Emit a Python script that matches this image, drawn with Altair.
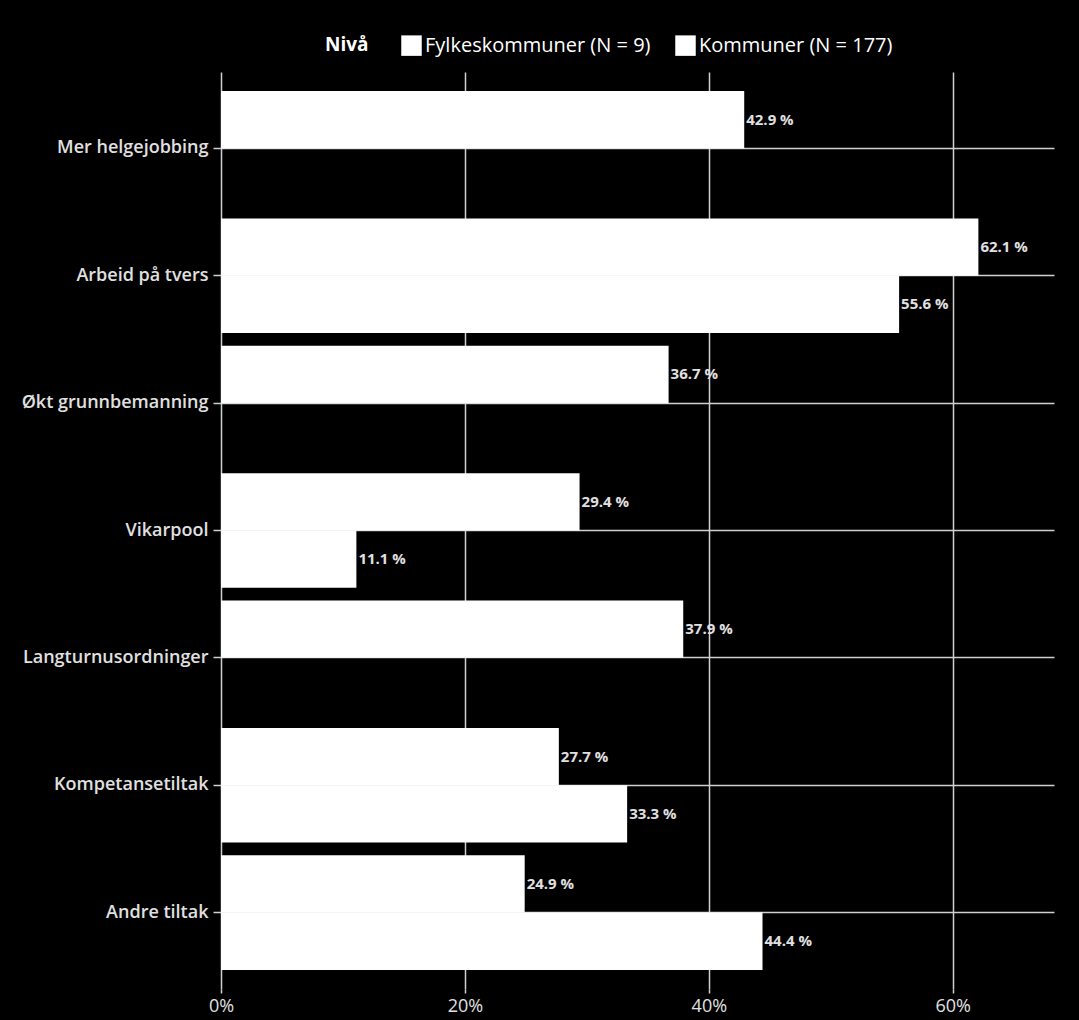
import altair as alt
import pandas as pd

categories = ["Mer helgejobbing", "Arbeid på tvers", "Økt grunnbemanning", "Vikarpool",
              "Langturnusordninger", "Kompetansetiltak", "Andre tiltak"]
kommuner = [42.9, 62.1, 36.7, 29.4, 37.9, 27.7, 24.9]
fylkeskommuner = [None, 55.6, None, 11.1, None, 33.3, 44.4]
series = ["Fylkeskommuner (N = 9)", "Kommuner (N = 177)"]
x_ticks = [0, 0.2, 0.4, 0.6]

rows = []
for c, k, f in zip(categories, kommuner, fylkeskommuner):
    rows.append({"cat": c, "niva": series[1], "val": k / 100, "lab": f"{k:.1f} %"})
    if f is not None:
        rows.append({"cat": c, "niva": series[0], "val": f / 100, "lab": f"{f:.1f} %"})
df = pd.DataFrame(rows)

FONT = "Open Sans"
GRID = "#d0d0d0"

y_enc = alt.Y("cat:N", sort=categories, title=None,
              scale=alt.Scale(paddingInner=0.1, paddingOuter=0.15),
              axis=alt.Axis(bandPosition=0.5, grid=True, gridColor=GRID, gridWidth=1.5,
                            domain=False, tickColor=GRID, tickSize=8, tickWidth=1.5,
                            labelColor="#e0e0e0", labelFontSize=18, labelFontWeight=600,
                            labelFont=FONT, labelPadding=5, labelLimit=0))
yoff = alt.YOffset("niva:N", sort=[series[1], series[0]],
                   scale=alt.Scale(paddingInner=0, paddingOuter=0))
x_enc = alt.X("val:Q", title=None,
              scale=alt.Scale(domain=[0, 0.683], nice=False, zero=True),
              axis=alt.Axis(values=x_ticks, format=".0%", grid=True, gridColor=GRID,
                            gridWidth=1.5, domain=False, tickColor=GRID, tickSize=4,
                            tickWidth=1.5, labelColor="#e0e0e0", labelFontSize=18,
                            labelFont=FONT, labelPadding=4, labelFlush=False))

bars = alt.Chart(df).mark_bar(color="white").encode(
    x=x_enc, y=y_enc, yOffset=yoff,
    color=alt.Color("niva:N", sort=series,
                    scale=alt.Scale(domain=series, range=["white", "white"]),
                    legend=alt.Legend(title="Nivå", orient="none", direction="horizontal",
                                      legendX=104, legendY=-37, titleOrient="left",
                                      titleBaseline="middle",
                                      titleColor="white", titleFontSize=19,
                                      titleFontWeight="bold", titleFont=FONT,
                                      titlePadding=32, labelColor="white",
                                      labelFontSize=20, labelFont=FONT, labelOffset=3,
                                      labelLimit=0,
                                      symbolType="square", symbolSize=420,
                                      symbolStrokeWidth=0, columnPadding=24)),
)

text = alt.Chart(df).mark_text(align="left", baseline="middle", dx=2, fontSize=15,
                               fontWeight="bold", color="#e0e0e0", font=FONT).encode(
    x="val:Q", y=alt.Y("cat:N", sort=categories), yOffset=yoff, text="lab:N"
)

chart = (bars + text).properties(
    width=833, height=917,
    autosize=alt.AutoSizeParams(type="none"),
    padding={"left": 221, "top": 72, "right": 25, "bottom": 31},
    background="black",
).configure_view(stroke=None)

chart.save("out.html", embed_options={"renderer": "svg", "actions": False})
